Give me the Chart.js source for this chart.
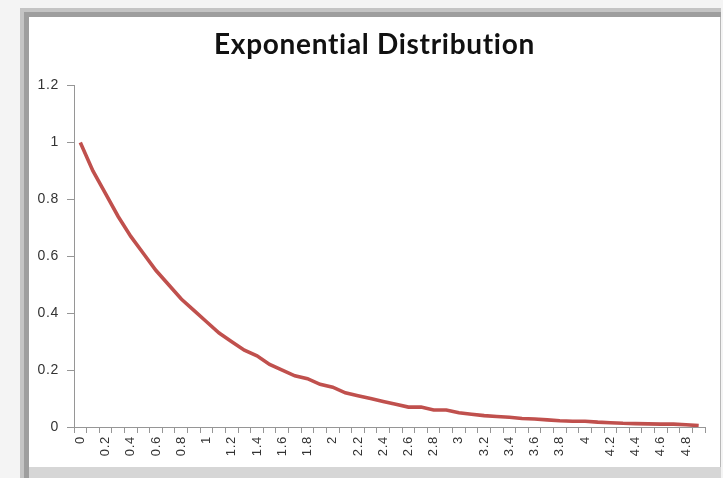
<!DOCTYPE html>
<html>
<head>
<meta charset="utf-8">
<script src="https://cdn.jsdelivr.net/npm/chart.js@4"></script>
<style>
  html, body { margin: 0; padding: 0; }
  body { width: 723px; height: 478px; background: #f4f4f4; position: relative; overflow: hidden; }
  #outer { position: absolute; left: 20px; top: 8px; width: 701px; height: 470px; background: #c4c4c4; }
  #mid { position: absolute; left: 4px; top: 4px; right: 0; bottom: 0; background: #9e9e9e; }
  #bottom { position: absolute; left: 29px; top: 467px; width: 692px; height: 11px; background: #d6d6d6; }
  #frame { position: absolute; left: 29px; top: 17px; width: 691px; height: 450px;
           background: #fff; border-right: 1px solid #b8b8b8; }
  canvas { display: block; }
</style>
</head>
<body>
<div id="outer"><div id="mid"></div></div>
<div id="bottom"></div>
<div id="frame"><canvas id="chart" width="691" height="450"></canvas></div>
<script>
// x values 0 .. 4.9, every other one is labelled
const xValues = ["0","0.1","0.2","0.3","0.4","0.5","0.6","0.7","0.8","0.9",
                 "1","1.1","1.2","1.3","1.4","1.5","1.6","1.7","1.8","1.9",
                 "2","2.1","2.2","2.3","2.4","2.5","2.6","2.7","2.8","2.9",
                 "3","3.1","3.2","3.3","3.4","3.5","3.6","3.7","3.8","3.9",
                 "4","4.1","4.2","4.3","4.4","4.5","4.6","4.7","4.8","4.9"];

// density
const density = [1.00, 0.90, 0.82, 0.74, 0.67, 0.61, 0.55, 0.50, 0.45, 0.41,
                 0.37, 0.33, 0.30, 0.27, 0.25, 0.22, 0.20, 0.18, 0.17, 0.15,
                 0.14, 0.12, 0.11, 0.10, 0.09, 0.08, 0.07, 0.07, 0.06, 0.06,
                 0.05, 0.045, 0.04, 0.037, 0.034, 0.03, 0.028, 0.025, 0.022, 0.02,
                 0.02, 0.017, 0.015, 0.013, 0.012, 0.011, 0.01, 0.01, 0.008, 0.005];

const yTicks = [0, 0.2, 0.4, 0.6, 0.8, 1, 1.2];

const axisColor = "#969696";
const labelColor = "#333333";

// a bit of letter spacing keeps the title from using ligatures
const spacingPlugin = {
  id: "spacing",
  beforeDraw(chart) { chart.ctx.letterSpacing = "0.7px"; }
};

const ctx = document.getElementById("chart").getContext("2d");
new Chart(ctx, {
  type: "line",
  data: {
    labels: xValues,
    datasets: [{
      data: density,
      yAxisID: "y",
      borderColor: "#c0504d",
      borderWidth: 3.6,
      pointRadius: 0,
      tension: 0,
      fill: false
    }]
  },
  plugins: [spacingPlugin],
  options: {
    responsive: false,
    animation: false,
    layout: { padding: 0 },
    plugins: {
      legend: { display: false },
      tooltip: { enabled: false },
      title: {
        display: true,
        text: "Exponential Distribution",
        color: "#111111",
        font: { family: "Lato", size: 28, weight: "bold" },
        padding: { top: 11, bottom: 24 }
      }
    },
    scales: {
      x: {
        type: "category",
        offset: true,
        border: { color: axisColor, width: 1 },
        grid: { drawOnChartArea: false, drawTicks: true, tickLength: 6, color: axisColor, offset: true },
        ticks: {
          autoSkip: false,
          minRotation: 90,
          maxRotation: 90,
          padding: 3,
          color: labelColor,
          font: { family: "Liberation Sans", size: 13 },
          callback: function (value, index) {
            return index % 2 === 0 ? xValues[index] : "";
          }
        },
        afterFit: function (scale) { scale.height = 40; }
      },
      y: {
        min: 0,
        max: 1.2,
        border: { color: axisColor, width: 1 },
        grid: { drawOnChartArea: false, drawTicks: true, tickLength: 7, color: axisColor },
        afterBuildTicks: function (scale) {
          scale.ticks = yTicks.map(v => ({ value: v }));
        },
        ticks: {
          padding: 8,
          color: labelColor,
          font: { family: "Liberation Sans", size: 14 },
          callback: function (value) { return String(value); }
        },
        afterFit: function (scale) { scale.width = 45; }
      },
      // empty right-hand margin so the title stays centred on the whole frame
      spacer: {
        type: "linear",
        position: "right",
        display: true,
        border: { display: false },
        grid: { display: false },
        ticks: { display: false },
        afterFit: function (scale) { scale.width = 15; }
      }
    }
  }
});
</script>
</body>
</html>
